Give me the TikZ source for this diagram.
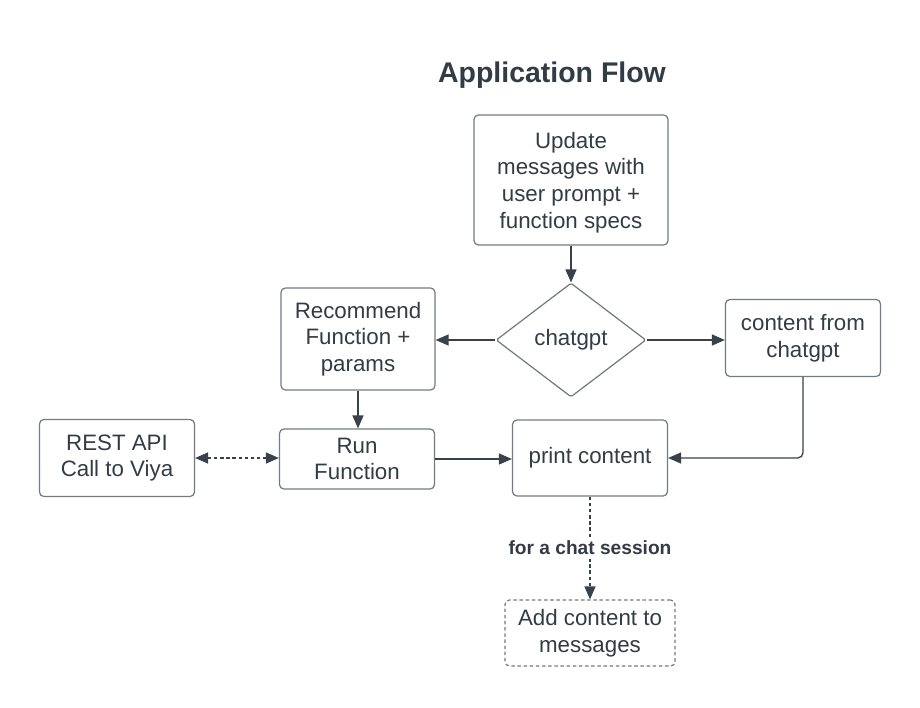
\documentclass[tikz,border=0pt]{standalone}
\usepackage{fontspec}
\setmainfont{Liberation Sans}
\usetikzlibrary{shapes.geometric,arrows.meta}
\definecolor{txtdark}{HTML}{333B45}
\definecolor{boxgray}{HTML}{737A84}
\definecolor{arrdark}{HTML}{3A414B}

\begin{document}
\begin{tikzpicture}[x=0.02cm,y=-0.02cm,
    box/.style={draw=boxgray, line width=0.7pt, rounded corners=2.5pt, align=center,
        text=txtdark, inner sep=0pt, font=\fontsize{12.7}{15.2}\selectfont},
    flow/.style={draw=arrdark, line width=0.75pt, -{Triangle[length=0.26cm,width=0.22cm]}},
    fine/.style={dash pattern=on 2pt off 1.5pt}]
    \useasboundingbox (0,0) rectangle (920,707);

    % Title
    \node[text=txtdark, font=\bfseries\fontsize{16.2}{19}\selectfont] (title) at (552,75) {Application Flow};

    % Boxes
    \node[box, minimum width=3.88cm, minimum height=2.6cm] (update) at (571,180)
        {\\[-0.11cm]Update\\messages with\\user prompt +\\function specs};
    \node[box, shape=diamond, rounded corners=1pt, minimum width=3cm, minimum height=2.28cm] (chat) at (571,340) {chatgpt};
    \node[box, minimum width=3.08cm, minimum height=2.04cm] (recommend) at (358,339)
        {Recommend\\Function +\\params};
    \node[box, minimum width=3.1cm, minimum height=1.54cm] (content) at (803,338)
        {content from\\chatgpt};
    \node[box, minimum width=3.1cm, minimum height=1.54cm] (rest) at (117,458)
        {REST API\\Call to Viya};
    \node[box, minimum width=3.1cm, minimum height=1.2cm] (run) at (357,459)
        {Run\\Function};
    \node[box, minimum width=3.1cm, minimum height=1.52cm] (print) at (590,458)
        {print content};
    \node[box, fine, minimum width=3.4cm, minimum height=1.32cm] (add) at (590,633)
        {Add content to\\messages};

    % Connectors
    \draw[flow] (update) -- (chat);
    \draw[flow] (chat.west) -- (chat.west -| recommend.east);
    \draw[flow] (chat.east) -- (chat.east -| content.west);
    \draw[flow] (recommend) -- (recommend.south |- run.north);
    \draw[flow, fine, {Triangle[length=0.26cm,width=0.22cm]}-{Triangle[length=0.26cm,width=0.22cm]}] (rest) -- (rest -| run.west);
    \draw[flow] (run.east) -- (run.east -| print.west);
    \draw[flow, rounded corners=3pt] (content.south) |- (print.east);
    \draw[flow, fine] (print) -- (add)
        node[midway, fill=white, text=txtdark, inner sep=2pt, font=\bfseries\fontsize{10.9}{13}\selectfont] (session) {for a chat session};
\end{tikzpicture}
\end{document}
